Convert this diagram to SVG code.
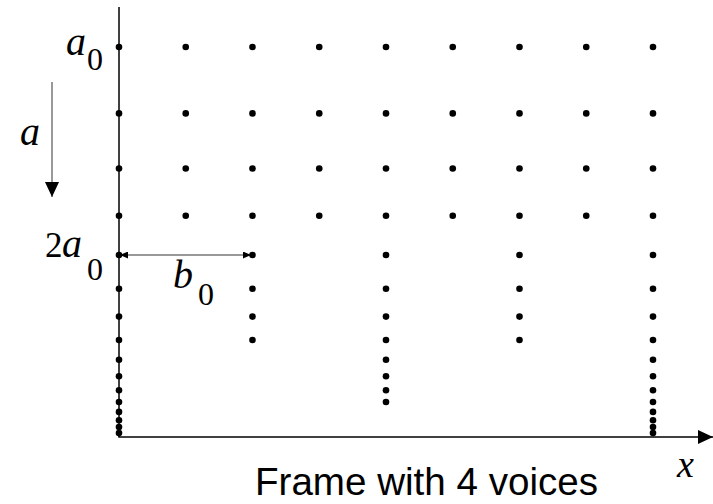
<svg xmlns="http://www.w3.org/2000/svg" width="713" height="504" viewBox="0 0 713 504">
<style>
.ax{stroke:#000;stroke-width:1.5;fill:none}
.gl{stroke:#777;stroke-width:1.5;fill:none}
.d{fill:#000}
.m{font-family:"Liberation Serif","Times New Roman",serif;font-style:italic;font-size:40px;fill:#000}
.s{font-family:"Liberation Serif","Times New Roman",serif;font-size:32px;fill:#000}
.n{font-family:"Liberation Serif","Times New Roman",serif;font-size:35px;fill:#000}
.t{font-family:"Liberation Sans",Arial,sans-serif;font-size:38.6px;fill:#000}
</style>
<defs>
<marker id="big" viewBox="0 0 15 14" refX="15" refY="7" markerWidth="15" markerHeight="14" markerUnits="userSpaceOnUse" orient="auto"><path d="M0,0 L15,7 L0,14 Z" fill="#000"/></marker>
<marker id="sm" viewBox="0 0 8 7" refX="8" refY="3.5" markerWidth="8" markerHeight="7" markerUnits="userSpaceOnUse" orient="auto-start-reverse"><path d="M0,0 L8,3.5 L0,7 Z" fill="#000"/></marker>
<g id="dot"><circle r="3.3"/></g>
</defs>
<g id="connectors">
<line id="y-axis" class="ax" x1="119" y1="7" x2="119" y2="437"/>
<line id="x-axis" class="ax" x1="118.25" y1="437" x2="713" y2="437" marker-end="url(#big)"/>
<line id="a-arrow" class="gl" x1="52" y1="82" x2="52" y2="197" marker-end="url(#big)"/>
<line id="b0-arrow" class="gl" x1="120" y1="255" x2="251" y2="255" marker-start="url(#sm)" marker-end="url(#sm)"/>
</g>
<g id="dots" class="d">
<g id="row0">
<use href="#dot" x="119" y="47"/><use href="#dot" x="185.75" y="47"/><use href="#dot" x="252.5" y="47"/><use href="#dot" x="319.25" y="47"/><use href="#dot" x="386" y="47"/><use href="#dot" x="452.75" y="47"/><use href="#dot" x="519.5" y="47"/><use href="#dot" x="586.25" y="47"/><use href="#dot" x="653" y="47"/>
</g>
<g id="row1">
<use href="#dot" x="119" y="113.4"/><use href="#dot" x="185.75" y="113.4"/><use href="#dot" x="252.5" y="113.4"/><use href="#dot" x="319.25" y="113.4"/><use href="#dot" x="386" y="113.4"/><use href="#dot" x="452.75" y="113.4"/><use href="#dot" x="519.5" y="113.4"/><use href="#dot" x="586.25" y="113.4"/><use href="#dot" x="653" y="113.4"/>
</g>
<g id="row2">
<use href="#dot" x="119" y="168.5"/><use href="#dot" x="185.75" y="168.5"/><use href="#dot" x="252.5" y="168.5"/><use href="#dot" x="319.25" y="168.5"/><use href="#dot" x="386" y="168.5"/><use href="#dot" x="452.75" y="168.5"/><use href="#dot" x="519.5" y="168.5"/><use href="#dot" x="586.25" y="168.5"/><use href="#dot" x="653" y="168.5"/>
</g>
<g id="row3">
<use href="#dot" x="119" y="215.8"/><use href="#dot" x="185.75" y="215.8"/><use href="#dot" x="252.5" y="215.8"/><use href="#dot" x="319.25" y="215.8"/><use href="#dot" x="386" y="215.8"/><use href="#dot" x="452.75" y="215.8"/><use href="#dot" x="519.5" y="215.8"/><use href="#dot" x="586.25" y="215.8"/><use href="#dot" x="653" y="215.8"/>
</g>
<g id="col0">
<use href="#dot" x="119" y="255"/><use href="#dot" x="119" y="288.7"/><use href="#dot" x="119" y="316.6"/><use href="#dot" x="119" y="340"/><use href="#dot" x="119" y="359.75"/><use href="#dot" x="119" y="376.3"/><use href="#dot" x="119" y="390.3"/><use href="#dot" x="119" y="402"/><use href="#dot" x="119" y="411.9"/><use href="#dot" x="119" y="420.2"/><use href="#dot" x="119" y="427.1"/><use href="#dot" x="119" y="433"/>
</g>
<g id="col2">
<use href="#dot" x="252.5" y="255"/><use href="#dot" x="252.5" y="288.7"/><use href="#dot" x="252.5" y="316.6"/><use href="#dot" x="252.5" y="340"/>
</g>
<g id="col4">
<use href="#dot" x="386" y="255"/><use href="#dot" x="386" y="288.7"/><use href="#dot" x="386" y="316.6"/><use href="#dot" x="386" y="340"/><use href="#dot" x="386" y="359.75"/><use href="#dot" x="386" y="376.3"/><use href="#dot" x="386" y="390.3"/><use href="#dot" x="386" y="402"/>
</g>
<g id="col6">
<use href="#dot" x="519.5" y="255"/><use href="#dot" x="519.5" y="288.7"/><use href="#dot" x="519.5" y="316.6"/><use href="#dot" x="519.5" y="340"/>
</g>
<g id="col8">
<use href="#dot" x="653" y="255"/><use href="#dot" x="653" y="288.7"/><use href="#dot" x="653" y="316.6"/><use href="#dot" x="653" y="340"/><use href="#dot" x="653" y="359.75"/><use href="#dot" x="653" y="376.3"/><use href="#dot" x="653" y="390.3"/><use href="#dot" x="653" y="402"/><use href="#dot" x="653" y="411.9"/><use href="#dot" x="653" y="420.2"/><use href="#dot" x="653" y="427.1"/><use href="#dot" x="653" y="433"/>
</g>
</g>
<g id="label-a0"><text class="m" x="66" y="55">a</text><text class="s" x="87" y="70">0</text></g>
<g id="label-2a0"><text class="n" x="45" y="257">2</text><text class="m" x="62" y="257">a</text><text class="s" x="87" y="280">0</text></g>
<g id="label-a"><text class="m" x="20" y="145">a</text></g>
<g id="label-b0"><text class="m" x="173" y="288">b</text><text class="s" x="198" y="305">0</text></g>
<g id="label-x"><text class="m" x="677" y="477" style="font-size:38px">x</text></g>
<g id="caption"><text class="t" x="255" y="495">Frame with 4 voices</text></g>
</svg>
